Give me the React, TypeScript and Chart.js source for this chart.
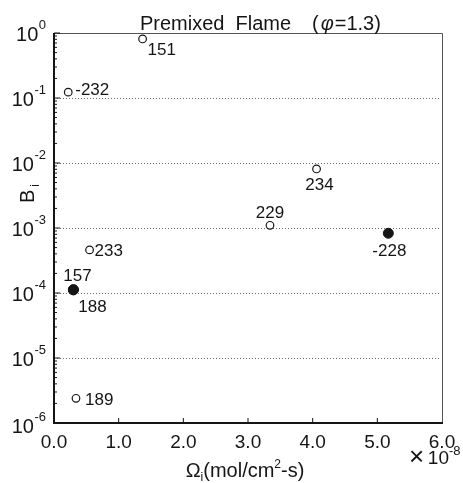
import { useEffect, useRef } from 'react';
import { Chart, registerables } from 'chart.js';

Chart.register(...registerables);

// ---- data (x in units of 1e-8 mol/cm2-s) ----
const openIds = ['151', '-232', '234', '229', '233', '189'];
const openX = [1.37, 0.22, 4.06, 3.34, 0.55, 0.34];
const openY = [0.81, 0.123, 0.0081, 0.0011, 0.00046, 0.0000024];

const filledIds = ['-228', '157', '188'];
const filledX = [5.17, 0.3, 0.3];
const filledY = [0.00083, 0.000112, 0.000112];

const xTickValues = [0, 1, 2, 3, 4, 5, 6];
const xTickLabels = ['0.0', '1.0', '2.0', '3.0', '4.0', '5.0', '6.0'];
const yExponents = [0, -1, -2, -3, -4, -5, -6];

// label placement (layout only): [dx, dy, align]
const labelPlacement: Record<string, [number, number, CanvasTextAlign]> = {
  '151': [5, 11, 'left'],
  '-232': [7, -2, 'left'],
  '234': [3, 16, 'center'],
  '229': [0, -12, 'center'],
  '-228': [1, 18, 'center'],
  '233': [5, 1, 'left'],
  '157': [4, -13, 'center'],
  '188': [19, 18, 'center'],
  '189': [9, 2, 'left'],
};

const FONT = '"Liberation Sans", Arial, Helvetica, sans-serif';
const INK = '#151515';

const decorPlugin = {
  id: 'decor',
  beforeDatasetsDraw(chart: any) {
    const { ctx, chartArea: a, scales } = chart;
    const y = scales.y;
    ctx.save();
    ctx.strokeStyle = '#6a6a6a';
    ctx.lineWidth = 1;
    ctx.setLineDash([1, 2]);
    yExponents.forEach((e) => {
      if (e === 0 || e === -6) return;
      const py = Math.round(y.getPixelForValue(Math.pow(10, e))) + 0.5;
      ctx.beginPath();
      ctx.moveTo(a.left + 3, py);
      ctx.lineTo(a.right - 3, py);
      ctx.stroke();
    });
    ctx.restore();
  },
  afterDraw(chart: any) {
    const { ctx, chartArea: a, scales } = chart;
    const x = scales.x;
    const y = scales.y;
    ctx.save();

    // frame
    ctx.strokeStyle = '#555';
    ctx.lineWidth = 1;
    ctx.beginPath();
    ctx.moveTo(a.left, a.top + 0.5);
    ctx.lineTo(a.right + 0.5, a.top + 0.5);
    ctx.lineTo(a.right + 0.5, a.bottom);
    ctx.stroke();
    ctx.strokeStyle = INK;
    ctx.lineWidth = 2;
    ctx.beginPath();
    ctx.moveTo(a.left, a.top);
    ctx.lineTo(a.left, a.bottom);
    ctx.lineTo(a.right + 1, a.bottom);
    ctx.stroke();

    // y ticks (major + minor, inward)
    ctx.lineWidth = 1;
    for (let e = -6; e <= 0; e++) {
      const base = Math.pow(10, e);
      const py = y.getPixelForValue(base);
      ctx.beginPath();
      ctx.moveTo(a.left, py);
      ctx.lineTo(a.left + 6, py);
      ctx.stroke();
      if (e < 0) {
        for (let m = 2; m <= 9; m++) {
          const pm = y.getPixelForValue(base * m);
          ctx.beginPath();
          ctx.moveTo(a.left, pm);
          ctx.lineTo(a.left + 3, pm);
          ctx.stroke();
        }
      }
    }
    // x ticks
    xTickValues.forEach((v) => {
      if (v === 0 || v === 6) return;
      const px = x.getPixelForValue(v);
      ctx.beginPath();
      ctx.moveTo(px, a.bottom);
      ctx.lineTo(px, a.bottom - 5);
      ctx.stroke();
    });

    ctx.fillStyle = INK;
    // x tick labels
    ctx.font = `19px ${FONT}`;
    ctx.textAlign = 'center';
    ctx.textBaseline = 'alphabetic';
    xTickValues.forEach((v, i) => {
      ctx.fillText(xTickLabels[i], x.getPixelForValue(v), a.bottom + 25);
    });

    // y tick labels 10^e
    yExponents.forEach((e) => {
      const py = y.getPixelForValue(Math.pow(10, e)) + (e === -6 ? 2 : 0);
      const sup = e === 0 ? '0' : '-' + Math.abs(e);
      ctx.font = `13px ${FONT}`;
      const sw = ctx.measureText(sup).width;
      const right = 46;
      ctx.textAlign = 'left';
      ctx.fillText(sup, right - sw, py - 4);
      ctx.font = `20px ${FONT}`;
      ctx.textAlign = 'right';
      ctx.fillText('10', right - sw - 0.5, py + 8);
    });

    // title
    ctx.textAlign = 'left';
    ctx.font = `20px ${FONT}`;
    ctx.fillText('Premixed  Flame', 140, 29.5);
    let tx = 312;
    ctx.fillText('(', tx, 29.5);
    tx += ctx.measureText('(').width + 2;
    ctx.font = `italic 20px ${FONT}`;
    ctx.fillText('\u03c6', tx, 29.5);
    tx += ctx.measureText('\u03c6').width + 1;
    ctx.font = `20px ${FONT}`;
    ctx.fillText('=1.3)', tx, 29.5);

    // x axis title: Ω_i(mol/cm^2-s)
    const parts: [string, number, number][] = [
      ['\u03a9', 20, 0],
      ['i', 12, 4],
      ['(mol/cm', 20, 0],
      ['2', 12, -9],
      ['-s)', 20, 0],
    ];
    let total = 0;
    parts.forEach(([t, s]) => {
      ctx.font = `${s}px ${FONT}`;
      total += ctx.measureText(t).width;
    });
    let cx = 245 - total / 2;
    parts.forEach(([t, s, dy]) => {
      ctx.font = `${s}px ${FONT}`;
      ctx.fillText(t, cx, 477 + dy);
      cx += ctx.measureText(t).width;
    });

    // ×10^-8
    ctx.font = `26px ${FONT}`;
    ctx.fillText('\u00d7', 409, 465);
    ctx.font = `19px ${FONT}`;
    ctx.textAlign = 'right';
    ctx.fillText('10', 449, 464);
    ctx.textAlign = 'left';
    ctx.font = `13px ${FONT}`;
    ctx.fillText('-8', 449, 455);

    // y axis title B_i (rotated)
    ctx.save();
    ctx.translate(34, 203);
    ctx.rotate(-Math.PI / 2);
    ctx.font = `20px ${FONT}`;
    ctx.fillText('B', 0, 0);
    const bw = ctx.measureText('B').width;
    ctx.font = `12px ${FONT}`;
    ctx.fillText('i', bw + 3, 5);
    ctx.restore();

    // point labels
    ctx.font = `17px ${FONT}`;
    ctx.textBaseline = 'middle';
    const drawLabels = (ids: string[], xs: number[], ys: number[]) => {
      ids.forEach((id, i) => {
        const [dx, dy, al] = labelPlacement[id];
        ctx.textAlign = al;
        ctx.fillText(id, x.getPixelForValue(xs[i]) + dx, y.getPixelForValue(ys[i]) + dy);
      });
    };
    drawLabels(openIds, openX, openY);
    drawLabels(filledIds, filledX, filledY);

    ctx.restore();
  },
};

export default function App() {
  const ref = useRef<HTMLCanvasElement>(null);
  useEffect(() => {
    document.body.style.margin = '0';
    const canvas = ref.current!;
    const chart = new Chart(canvas, {
      type: 'scatter',
      data: {
        datasets: [
          {
            data: openX.map((v, i) => ({ x: v, y: openY[i] })),
            pointStyle: 'circle',
            pointRadius: 3.8,
            pointBackgroundColor: '#ffffff',
            pointBorderColor: INK,
            pointBorderWidth: 1.2,
            clip: false as any,
          },
          {
            data: filledX.map((v, i) => ({ x: v, y: filledY[i] })),
            pointStyle: 'circle',
            pointRadius: 5,
            pointBackgroundColor: INK,
            pointBorderColor: INK,
            pointBorderWidth: 1,
            clip: false as any,
          },
        ],
      },
      options: {
        responsive: false,
        animation: false,
        devicePixelRatio: 1,
        layout: { padding: { left: 54, top: 33, right: 21, bottom: 60 } },
        plugins: { legend: { display: false }, tooltip: { enabled: false }, title: { display: false } },
        scales: {
          x: { type: 'linear', min: 0, max: 6, display: false },
          y: { type: 'logarithmic', min: 1e-6, max: 1, display: false },
        },
      },
      plugins: [decorPlugin],
    });
    return () => chart.destroy();
  }, []);
  return <canvas ref={ref} width={463} height={483} style={{ display: 'block' }} />;
}
